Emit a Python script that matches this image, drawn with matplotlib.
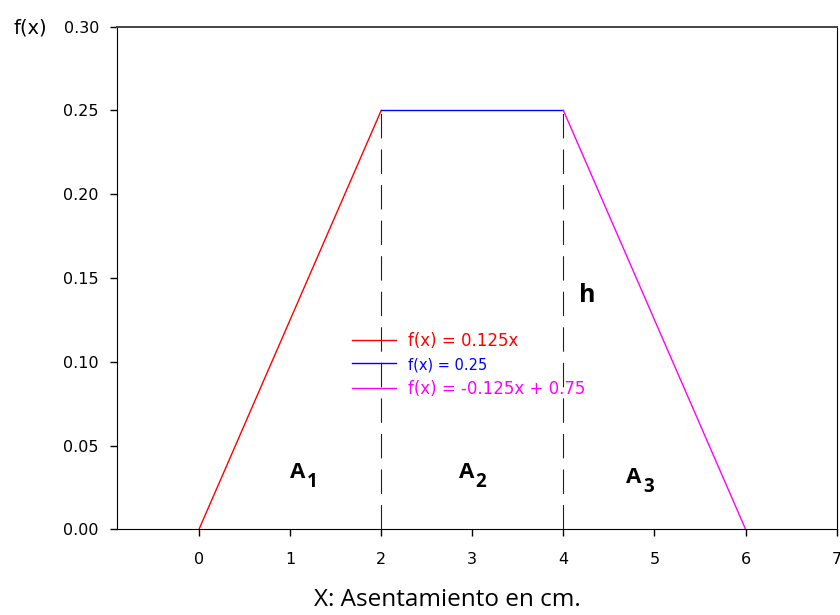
import numpy as np
import matplotlib
matplotlib.use("Agg")
import matplotlib.pyplot as plt

# piecewise density segments
x_seg1 = [0, 2]
y_seg1 = [0.0, 0.25]
x_seg2 = [2, 4]
y_seg2 = [0.25, 0.25]
x_seg3 = [4, 6]
y_seg3 = [0.25, 0.0]
labels = ["f(x) = 0.125x", "f(x) = 0.25", "f(x) = -0.125x + 0.75"]
label_sizes = [12, 10.5, 12]
colors = ["#ff0000", "#0000ff", "#ff00ff"]

x_dash = [2, 4]
area_main = ["A", "A", "A"]
area_sub = ["1", "2", "3"]
area_x = [1.0, 2.85, 4.69]
area_y = [0.0306, 0.0306, 0.0276]

xticks = [0, 1, 2, 3, 4, 5, 6, 7]
yticks = [0.0, 0.05, 0.10, 0.15, 0.20, 0.25, 0.30]

plt.rcParams.update({
    "font.family": ["DejaVu Sans"],
})

fig = plt.figure(figsize=(8.4, 6.15), dpi=100)
ax = fig.add_axes([117 / 840, 1 - 529.3 / 615, (836.7 - 117) / 840, (529.3 - 26.7) / 615])

for xs, ys, lab, c in zip([x_seg1, x_seg2, x_seg3], [y_seg1, y_seg2, y_seg3], labels, colors):
    ax.plot(xs, ys, color=c, lw=1.0, label=lab)

for xd in x_dash:
    ax.plot([xd, xd], [0, 0.25], color="#222222", lw=0.8, ls=(0, (22, 10)))

for m, s, xa, ya in zip(area_main, area_sub, area_x, area_y):
    ax.text(xa, ya, m, fontsize=16, fontweight="bold", family="Open Sans",
            ha="left", va="baseline")
    ax.annotate(s, (xa, ya), xytext=(12.0, -6.5), textcoords="offset points",
                fontsize=13.5, fontweight="bold", family="Open Sans",
                ha="left", va="baseline")
ax.text(4.264, 0.1393, "h", fontsize=18, fontweight="bold", family="Open Sans",
        ha="center", va="center")

leg = ax.legend(loc="upper left", bbox_to_anchor=(0.306, 0.423), frameon=False,
                fontsize=12, handlelength=2.6, handletextpad=0.75,
                labelspacing=0.45, labelcolor="linecolor")
for t, fs in zip(leg.get_texts(), label_sizes):
    t.set_fontsize(fs)

ax.set_xlim(-0.9, 7)
ax.set_ylim(0, 0.30)
ax.set_xticks(xticks)
ax.set_yticks(yticks)
ax.set_yticklabels([f"{v:.2f}" for v in yticks])
ax.tick_params(labelsize=11.5, length=5, width=1, direction="out", pad=8)
ax.tick_params(axis="x", pad=11)
ax.spines["top"].set_color("#444444")
ax.spines["top"].set_linewidth(1.4)

fig.text(447 / 840, 1 - 600 / 615, "X: Asentamiento en cm.", fontsize=17.5,
         family="Open Sans", ha="center", va="center")
fig.text(30 / 840, 1 - 28 / 615, "f(x)", fontsize=14, ha="center", va="center")

fig.savefig("out.png", dpi=100)
